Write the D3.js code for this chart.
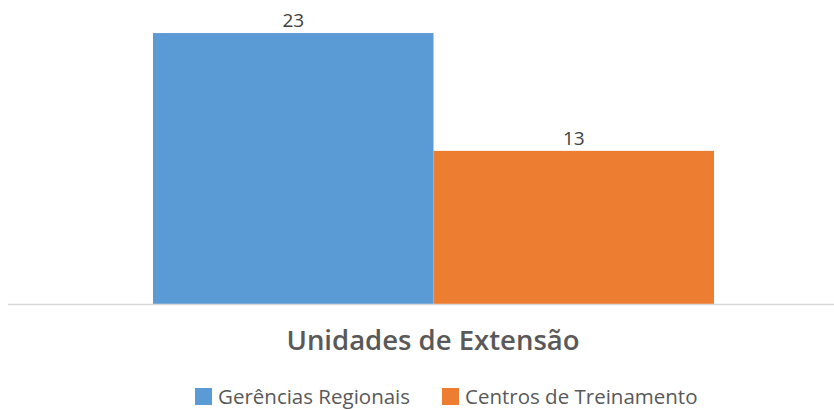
<!DOCTYPE html>
<html><head><meta charset="utf-8">
<script src="https://cdn.jsdelivr.net/npm/d3@7"></script>
<style>html,body{margin:0;padding:0;background:#fff;}</style>
</head><body>
<svg id="c" width="834" height="410"></svg>
<script>
const categories = ["Unidades de Extensão"];
const seriesNames = ["Gerências Regionais", "Centros de Treinamento"];
const seriesValues = [23, 13];
const colors = ["#5B9BD5", "#ED7D31"];
const font = "'Open Sans', 'Liberation Sans', sans-serif";

const svg = d3.select("#c");
const x = d3.scaleBand().domain(seriesNames).range([153, 714]).padding(0);
const y = d3.scaleLinear().domain([0, 25]).range([304, 9.5]);

svg.selectAll("rect.bar").data(seriesValues).join("rect")
  .attr("class","bar")
  .attr("x",(d,i)=>x(seriesNames[i]))
  .attr("width",x.bandwidth())
  .attr("y",d=>y(d))
  .attr("height",d=>y(0)-y(d))
  .attr("fill",(d,i)=>colors[i]);

svg.append("line").attr("x1",8).attr("x2",834).attr("y1",y(0)+0.5).attr("y2",y(0)+0.5)
  .attr("stroke","#d9d9d9").attr("stroke-width",1.5);

svg.selectAll("text.lbl").data(seriesValues).join("text")
  .attr("class","lbl")
  .attr("x",(d,i)=>x(seriesNames[i])+x.bandwidth()/2)
  .attr("y",d=>y(d)-6)
  .attr("text-anchor","middle")
  .attr("font-family",font).attr("font-size",19).attr("fill","#404040")
  .text(d=>d);

svg.append("text").attr("x",433).attr("y",350).attr("text-anchor","middle")
  .attr("font-family",font).attr("font-size",27.5).attr("font-weight",600).attr("fill","#595959")
  .text(categories[0]);

const legX = [195, 442];
const lg = svg.selectAll("g.leg").data(seriesNames).join("g").attr("class","leg")
  .attr("transform",(d,i)=>`translate(${legX[i]},388)`);
lg.append("rect").attr("width",17).attr("height",17).attr("fill",(d,i)=>colors[i]);
lg.append("text").attr("x",23).attr("y",16).attr("font-family",font).attr("font-size",20.5)
  .attr("fill","#595959").text(d=>d);
</script>
</body></html>
